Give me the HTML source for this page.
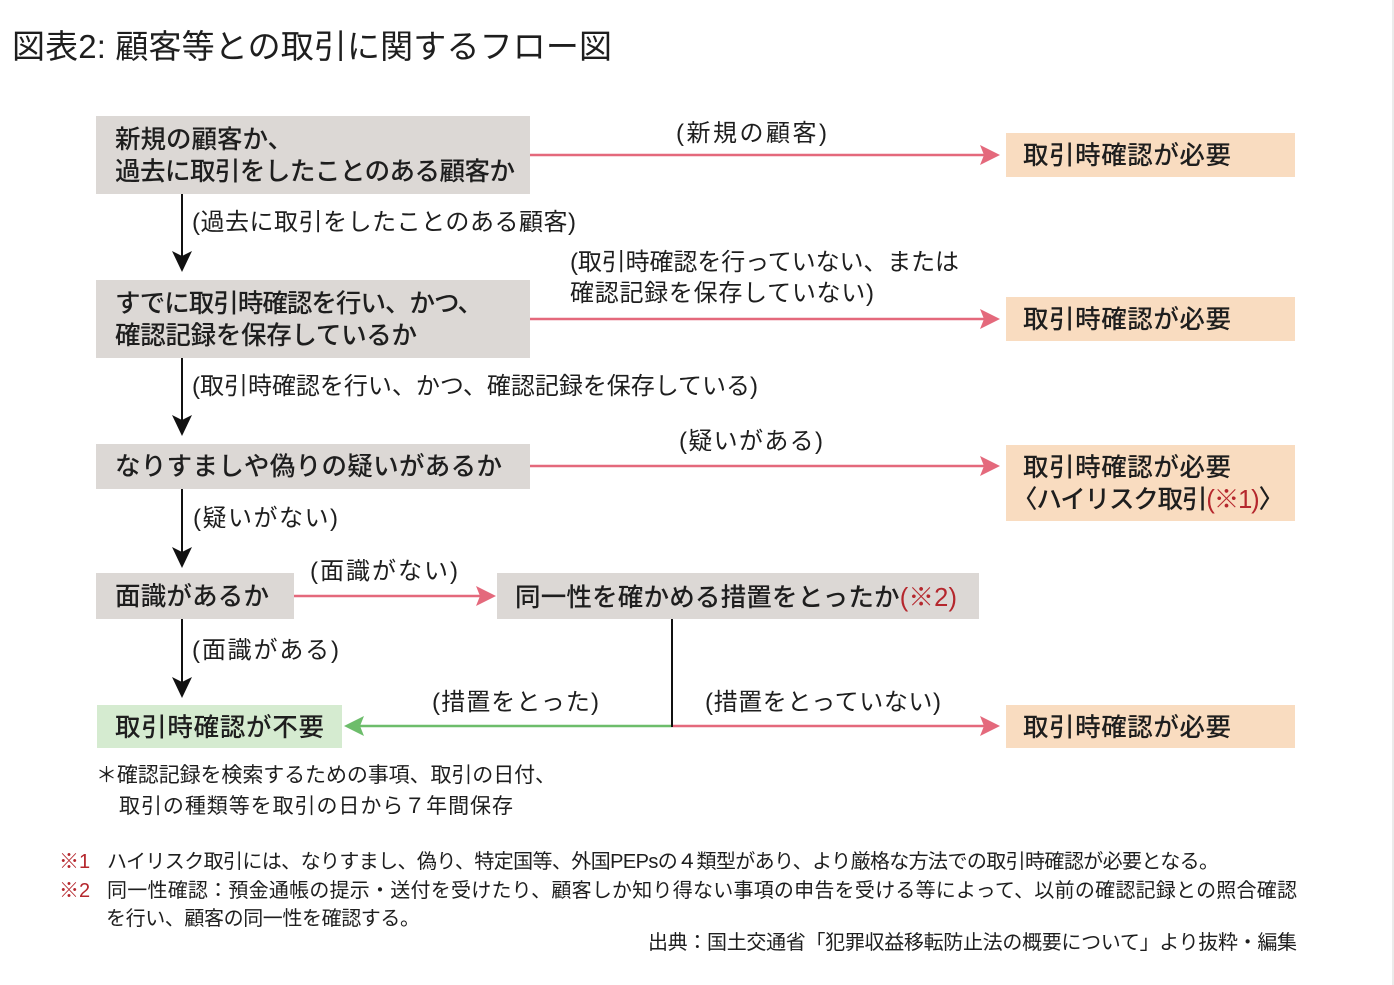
<!DOCTYPE html>
<html lang="ja">
<head>
<meta charset="utf-8">
<style>
  html,body{margin:0;padding:0;background:#fff;}
  body{width:1394px;height:985px;overflow:hidden;}
  svg{display:block;}
  text{font-family:"Liberation Sans","Noto Sans CJK JP",sans-serif;fill:#1e1e1e;}
  .bx{font-size:25.5px;font-weight:500;}
  .lb{font-size:24px;}
  .nt{font-size:20px;}
  .fn{font-size:21px;}
  .red{fill:#b5272d;}
</style>
</head>
<body>
<svg width="1394" height="985" viewBox="0 0 1394 985" xmlns="http://www.w3.org/2000/svg">
  <rect x="0" y="0" width="1394" height="985" fill="#ffffff"/>
  <rect x="1392" y="0" width="2" height="985" fill="#ebebeb"/>

  <!-- Title -->
  <text x="12" y="58" style="font-size:33px" textLength="600" lengthAdjust="spacing">図表2: 顧客等との取引に関するフロー図</text>

  <!-- Boxes -->
  <rect x="96" y="116" width="434" height="78" fill="#dcd8d5"/>
  <rect x="96" y="280" width="434" height="78" fill="#dcd8d5"/>
  <rect x="96" y="444" width="434" height="45" fill="#dcd8d5"/>
  <rect x="96" y="573" width="198" height="46" fill="#dcd8d5"/>
  <rect x="497" y="573" width="482" height="46" fill="#dcd8d5"/>
  <rect x="97" y="705" width="245" height="43" fill="#d5ebd0"/>

  <rect x="1006" y="133" width="289" height="44" fill="#f9dcc0"/>
  <rect x="1006" y="297" width="289" height="44" fill="#f9dcc0"/>
  <rect x="1006" y="445" width="289" height="76" fill="#f9dcc0"/>
  <rect x="1006" y="705" width="289" height="43" fill="#f9dcc0"/>

  <!-- Box texts -->
  <text class="bx" x="115" y="148">新規の顧客か、</text>
  <text class="bx" x="115" y="180" textLength="400" lengthAdjust="spacing">過去に取引をしたことのある顧客か</text>
  <text class="bx" x="115" y="312" textLength="368" lengthAdjust="spacing">すでに取引時確認を行い、かつ、</text>
  <text class="bx" x="115" y="344" textLength="302" lengthAdjust="spacing">確認記録を保存しているか</text>
  <text class="bx" x="115" y="475" textLength="387" lengthAdjust="spacing">なりすましや偽りの疑いがあるか</text>
  <text class="bx" x="115" y="605" textLength="154" lengthAdjust="spacing">面識があるか</text>
  <text class="bx" x="515" y="606" textLength="442" lengthAdjust="spacing">同一性を確かめる措置をとったか<tspan class="red">(※2)</tspan></text>
  <text class="bx" x="115" y="736" textLength="209" lengthAdjust="spacing">取引時確認が不要</text>

  <text class="bx" x="1023" y="164" textLength="208" lengthAdjust="spacing">取引時確認が必要</text>
  <text class="bx" x="1023" y="328" textLength="208" lengthAdjust="spacing">取引時確認が必要</text>
  <text class="bx" x="1023" y="476" textLength="208" lengthAdjust="spacing">取引時確認が必要</text>
  <text class="bx" x="1012" y="508" textLength="272" lengthAdjust="spacing">〈ハイリスク取引<tspan class="red">(※1)</tspan>〉</text>
  <text class="bx" x="1023" y="736" textLength="208" lengthAdjust="spacing">取引時確認が必要</text>

  <!-- Pink arrows -->
  <g stroke="#e4697c" stroke-width="2.5" fill="none">
    <line x1="530" y1="155" x2="986" y2="155"/>
    <line x1="530" y1="319" x2="986" y2="319"/>
    <line x1="530" y1="466" x2="986" y2="466"/>
    <line x1="294" y1="596" x2="482" y2="596"/>
    <line x1="672" y1="726" x2="986" y2="726"/>
  </g>
  <g fill="#e4697c">
    <path d="M1000,155 L980,145 L984,155 L980,165 Z"/>
    <path d="M1000,319 L980,309 L984,319 L980,329 Z"/>
    <path d="M1000,466 L980,456 L984,466 L980,476 Z"/>
    <path d="M496,596 L476,586 L480,596 L476,606 Z"/>
    <path d="M1000,726 L980,716 L984,726 L980,736 Z"/>
  </g>

  <!-- Green arrow -->
  <line x1="672" y1="726" x2="358" y2="726" stroke="#6dbd6b" stroke-width="2.5"/>
  <path d="M344,726 L364,716 L360,726 L364,736 Z" fill="#6dbd6b"/>

  <!-- Black arrows -->
  <g stroke="#111" stroke-width="2" fill="none">
    <line x1="182" y1="194" x2="182" y2="258"/>
    <line x1="182" y1="358" x2="182" y2="422"/>
    <line x1="182" y1="489" x2="182" y2="554"/>
    <line x1="182" y1="619" x2="182" y2="684"/>
    <line x1="672" y1="619" x2="672" y2="727"/>
  </g>
  <g fill="#111">
    <path d="M182,272 L172,251 L182,256 L192,251 Z"/>
    <path d="M182,436 L172,415 L182,420 L192,415 Z"/>
    <path d="M182,568 L172,547 L182,552 L192,547 Z"/>
    <path d="M182,698 L172,677 L182,682 L192,677 Z"/>
  </g>

  <!-- Connector labels -->
  <text class="lb" x="676" y="141" textLength="151" lengthAdjust="spacing">(新規の顧客)</text>
  <text class="lb" x="192" y="230" textLength="384" lengthAdjust="spacing">(過去に取引をしたことのある顧客)</text>
  <text class="lb" x="570" y="270" textLength="389" lengthAdjust="spacing">(取引時確認を行っていない、または</text>
  <text class="lb" x="570" y="301" textLength="304" lengthAdjust="spacing">確認記録を保存していない)</text>
  <text class="lb" x="192" y="394" textLength="566" lengthAdjust="spacing">(取引時確認を行い、かつ、確認記録を保存している)</text>
  <text class="lb" x="679" y="449" textLength="144" lengthAdjust="spacing">(疑いがある)</text>
  <text class="lb" x="193" y="526" textLength="145" lengthAdjust="spacing">(疑いがない)</text>
  <text class="lb" x="310" y="579" textLength="148" lengthAdjust="spacing">(面識がない)</text>
  <text class="lb" x="192" y="658" textLength="147" lengthAdjust="spacing">(面識がある)</text>
  <text class="lb" x="432" y="710" textLength="167" lengthAdjust="spacing">(措置をとった)</text>
  <text class="lb" x="705" y="710" textLength="236" lengthAdjust="spacing">(措置をとっていない)</text>

  <!-- Footnote under flow -->
  <text class="fn" x="96" y="782" textLength="460" lengthAdjust="spacing">＊確認記録を検索するための事項、取引の日付、</text>
  <text class="fn" x="119" y="813" textLength="394" lengthAdjust="spacing">取引の種類等を取引の日から７年間保存</text>

  <!-- Notes -->
  <text class="nt red" x="59" y="868">※1</text>
  <text class="nt" x="107" y="868" textLength="1112" lengthAdjust="spacing">ハイリスク取引には、なりすまし、偽り、特定国等、外国PEPsの４類型があり、より厳格な方法での取引時確認が必要となる。</text>
  <text class="nt red" x="59" y="897">※2</text>
  <text class="nt" x="107" y="897" textLength="1190" lengthAdjust="spacing">同一性確認：預金通帳の提示・送付を受けたり、顧客しか知り得ない事項の申告を受ける等によって、以前の確認記録との照合確認</text>
  <text class="nt" x="106" y="925" textLength="314" lengthAdjust="spacing">を行い、顧客の同一性を確認する。</text>
  <text class="nt" x="648" y="949" textLength="649" lengthAdjust="spacing">出典：国土交通省「犯罪収益移転防止法の概要について」より抜粋・編集</text>
</svg>
</body>
</html>
